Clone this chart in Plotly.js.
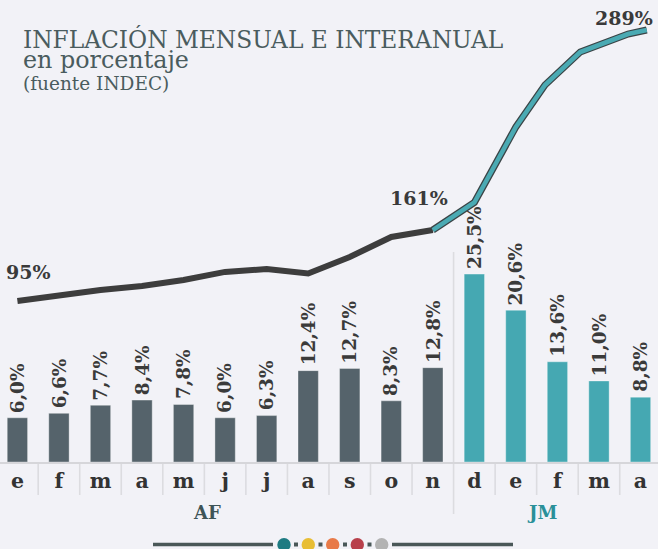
<!DOCTYPE html>
<html>
<head>
<meta charset="utf-8">
<script src="https://cdn.plot.ly/plotly-3.0.1.min.js"></script>
<style>
html,body{margin:0;padding:0;background:#f2f2f7;overflow:hidden;}
#chart{width:658px;height:549px;}
</style>
</head>
<body>
<div id="chart"></div>
<script>
// ---- data ----
const monthLabels = ['e','f','m','a','m','j','j','a','s','o','n','d','e','f','m','a'];
const groupLabels = ['AF','JM'];
const monthlyAF = [6.0, 6.6, 7.7, 8.4, 7.8, 6.0, 6.3, 12.4, 12.7, 8.3, 12.8];
const monthlyJM = [25.5, 20.6, 13.6, 11.0, 8.8];
const interanualX = [0,1,2,3,4,5,6,7,8,9,10,11,12,12.7,13.55,14.7,15.15];
const interanualY = [95, 99.3, 102.9, 105.7, 110.0, 115.8, 117.9, 114.7, 126.5, 140.8, 145.8, 165.5, 219.6, 249.6, 273.2, 286.1, 289];
const interanualLabelIdx = [0, 10, 16];
const interanualLabels = ['95%', '161%', '289%'];
const titleLines = ['INFLACIÓN MENSUAL E INTERANUAL', 'en porcentaje', '(fuente INDEC)'];

// ---- helpers ----
const W = 658, H = 549, PLOT_H = 462;
const py = p => (PLOT_H - p) / PLOT_H;   // pixel y -> paper y
const pxp = p => p / W;                  // pixel x -> paper x
const fmt = v => v.toFixed(1).replace('.', ',') + '%';

const xAF = monthlyAF.map((_, i) => i);
const xJM = monthlyJM.map((_, i) => i + monthlyAF.length);
const splitIdx = monthlyAF.length - 1;

const DARK = '#55636b', TEAL = '#45a8b2', LINE = '#3d3d3d';
const SERIF = 'DejaVu Serif';

const traces = [
  {type:'bar', x:xAF, y:monthlyAF, width:0.49, marker:{color:DARK, line:{color:'rgba(255,255,255,0.35)', width:1}}, hoverinfo:'skip'},
  {type:'bar', x:xJM, y:monthlyJM, width:0.49, marker:{color:TEAL, line:{color:'rgba(255,255,255,0.35)', width:1}}, hoverinfo:'skip'},
  {type:'scatter', mode:'lines', x:interanualX.slice(0, splitIdx + 1), y:interanualY.slice(0, splitIdx + 1), yaxis:'y2',
   line:{color:LINE, width:6}, hoverinfo:'skip'},
  {type:'scatter', mode:'lines', x:interanualX.slice(splitIdx), y:interanualY.slice(splitIdx), yaxis:'y2',
   line:{color:'#3a4446', width:7}, hoverinfo:'skip'},
  {type:'scatter', mode:'lines', x:interanualX.slice(splitIdx), y:interanualY.slice(splitIdx), yaxis:'y2',
   line:{color:'#4aaab3', width:4.5}, hoverinfo:'skip'}
];

const annotations = [];
// bar value labels
monthlyAF.concat(monthlyJM).forEach((v, i) => {
  annotations.push({x:i, y:v, xref:'x', yref:'y', text:'<b>' + fmt(v) + '</b>', textangle:-90, showarrow:false,
    xanchor:'center', yanchor:'bottom', yshift:3,
    font:{family:SERIF, size:18.5, color:'#3a3a3a'}});
});
// line labels
const lblShift = [[11, 29], [-14, 32], [-23, 12]];
interanualLabelIdx.forEach((idx, k) => {
  annotations.push({x:interanualX[idx], y:interanualY[idx], xref:'x', yref:'y2', text:'<b>' + interanualLabels[k] + '</b>',
    showarrow:false, xanchor:'center', yanchor:'middle', xshift:lblShift[k][0], yshift:lblShift[k][1],
    font:{family:SERIF, size:19, color:'#3a3a3a'}});
});
// group labels
annotations.push({x:pxp(207), y:py(512), xref:'paper', yref:'paper', text:'<b>' + groupLabels[0] + '</b>', showarrow:false,
  xanchor:'center', yanchor:'middle', font:{family:SERIF, size:18, color:'#3e5457'}});
annotations.push({x:pxp(542), y:py(512), xref:'paper', yref:'paper', text:'<b>' + groupLabels[1] + '</b>', showarrow:false,
  xanchor:'center', yanchor:'middle', font:{family:SERIF, size:18, color:'#2a9099'}});
// titles
annotations.push({x:pxp(21), y:py(39), xref:'paper', yref:'paper', text:titleLines[0], showarrow:false,
  xanchor:'left', yanchor:'middle', font:{family:SERIF, size:23.3, color:'#4a5c5e'}});
annotations.push({x:pxp(21), y:py(60), xref:'paper', yref:'paper', text:titleLines[1], showarrow:false,
  xanchor:'left', yanchor:'middle', font:{family:SERIF, size:23.8, color:'#4a5c5e'}});
annotations.push({x:pxp(21), y:py(84), xref:'paper', yref:'paper', text:titleLines[2], showarrow:false,
  xanchor:'left', yanchor:'middle', font:{family:SERIF, size:18.5, color:'#4a5c5e'}});

// shapes: separators and bottom decoration
const shapes = [];
for (let i = 0; i < monthLabels.length - 1; i++) {
  const tall = (i === splitIdx);
  shapes.push({type:'line', xref:'x', yref:'paper', x0:i + 0.5, x1:i + 0.5,
    y0: tall ? py(252) : py(463), y1: tall ? py(514) : py(495),
    line:{color:'#dcdce0', width:1.6}, layer:'below'});
}
const decoY = py(544.5);
shapes.push({type:'line', xref:'paper', yref:'paper', x0:pxp(153), x1:pxp(273), y0:decoY, y1:decoY, line:{color:'#4a5858', width:3.3}});
shapes.push({type:'line', xref:'paper', yref:'paper', x0:pxp(392), x1:pxp(513), y0:decoY, y1:decoY, line:{color:'#4a5858', width:3.3}});
const dotX = [284, 308.3, 332.7, 357.3, 381.7];
const dotC = ['#1e7b82', '#e8be35', '#e87a48', '#b8404b', '#b3b3b3'];
dotX.forEach((cx, i) => {
  shapes.push({type:'circle', xref:'paper', yref:'paper', x0:pxp(cx - 6.7), x1:pxp(cx + 6.7), y0:py(538), y1:py(551.4),
    fillcolor:dotC[i], line:{width:0}});
});
[296, 320.5, 345, 369.5].forEach(cx => {
  shapes.push({type:'rect', xref:'paper', yref:'paper', x0:pxp(cx - 2), x1:pxp(cx + 2), y0:py(542.5), y1:py(546.5),
    fillcolor:'#4a5858', line:{width:0}});
});

const layout = {
  width:W, height:H,
  margin:{l:0, r:0, t:0, b:H - PLOT_H, pad:0},
  paper_bgcolor:'#f2f2f7', plot_bgcolor:'#f2f2f7',
  showlegend:false, barmode:'overlay',
  xaxis:{range:[-0.419, 15.421], tickmode:'array', tickvals:monthLabels.map((_, i) => i), ticktext:monthLabels.map(t => '<b>' + t + '</b>'),
    ticks:'', showgrid:false, zeroline:false, showline:true, linecolor:'#d6d6da', linewidth:2,
    ticklabelstandoff:-1, tickfont:{family:SERIF, size:20.5, color:'#333333'}, fixedrange:true},
  yaxis:{range:[0, 62.7], visible:false, fixedrange:true},
  yaxis2:{range:[-20.25, 310.45], overlaying:'y', visible:false, fixedrange:true},
  annotations:annotations,
  shapes:shapes
};

Plotly.newPlot('chart', traces, layout, {staticPlot:true, displayModeBar:false});
</script>
</body>
</html>
